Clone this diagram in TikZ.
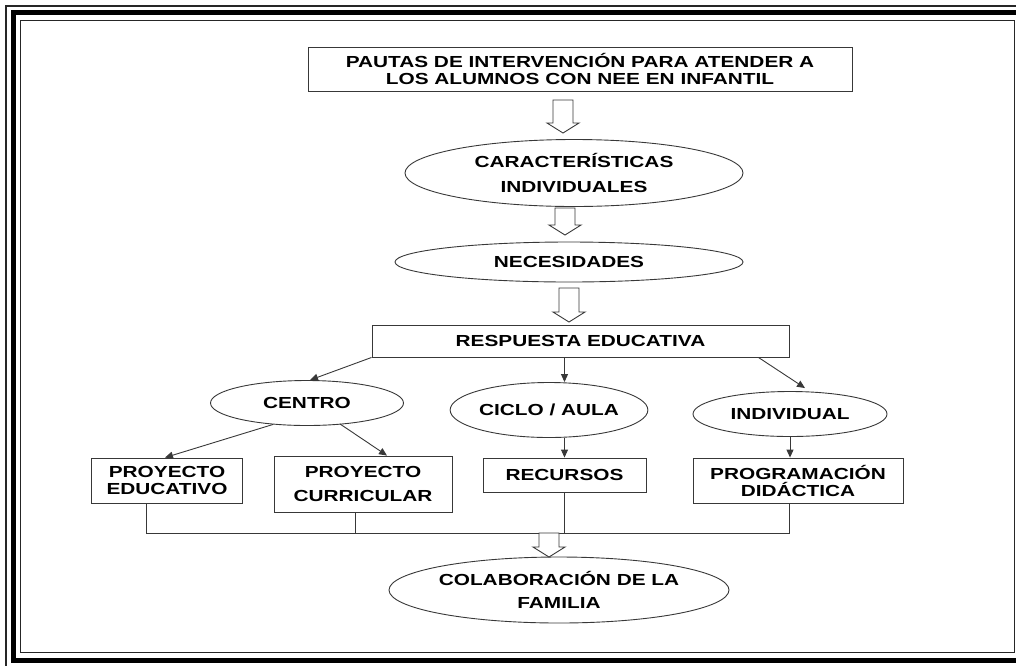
\documentclass[tikz,border=0pt]{standalone}
\usepackage{fontspec}
\setmainfont{Liberation Sans}[FakeStretch=1.3]
\usetikzlibrary{shapes.geometric,arrows.meta,calc}
\newcommand{\blockarrow}[2]{%
  \draw[hollow] let \p1=(#1), \p2=(#2) in
  (\x1-10pt,\y1) -- (\x1+10pt,\y1) -- (\x1+10pt,\y2+10pt) -- (\x1+16pt,\y2+10pt)
  -- (\x1,\y2) -- (\x1-16pt,\y2+10pt) -- (\x1-10pt,\y2+10pt) -- cycle;}
\begin{document}
\begin{tikzpicture}[x=1pt,y=-1pt,
  font=\fontsize{16}{17}\selectfont\bfseries,
  ln/.style={draw=black!78, line width=0.9pt},
  box/.style={ln, rectangle, inner sep=0pt, align=center},
  ell/.style={ln, ellipse, inner sep=0pt, align=center},
  arr/.style={ln, -{Triangle[length=8pt,width=7pt]}},
  hollow/.style={ln, fill=white, line join=miter},
  frame/.style={draw=black!85}]
\useasboundingbox (0,0) rectangle (1016,665);
\begin{scope}
  \clip (0,0) rectangle (1016,665);
  \draw[frame, line width=1.6pt] (6,6) rectangle (1040,700);
  \draw[frame, draw=black, line width=5pt] (13.5,12.5) rectangle (1030,660.5);
  \draw[frame, line width=1.6pt] (20.5,20.5) rectangle (1014.5,652.5);
\end{scope}

\node[box, minimum width=544pt, minimum height=44pt] (t) at (580,69)
  {PAUTAS DE INTERVENCIÓN PARA ATENDER A\\LOS ALUMNOS CON NEE EN INFANTIL};
\node[ell, minimum width=338pt, minimum height=67pt] (e1) at (574,173)
  {CARACTERÍSTICAS\\[8pt]INDIVIDUALES};
\node[ell, minimum width=348pt, minimum height=40pt] (e2) at (569,262) {NECESIDADES};
\node[box, minimum width=417pt, minimum height=32pt] (r) at (580.5,341) {RESPUESTA EDUCATIVA};
\node[ell, minimum width=193pt, minimum height=45pt] (c) at (307,403) {CENTRO};
\node[ell, minimum width=194pt, minimum height=55pt] (ca) at (549,410) {CICLO / AULA};
\node[ell, minimum width=194pt, minimum height=45pt] (in) at (790,414) {INDIVIDUAL};
\node[box, minimum width=151pt, minimum height=45pt] (pe) at (167,480.5) {PROYECTO\\EDUCATIVO};
\node[box, minimum width=178pt, minimum height=56pt] (pc) at (363,484) {PROYECTO\\[7pt]CURRICULAR};
\node[box, minimum width=163pt, minimum height=34pt] (rc) at (564.5,475) {RECURSOS};
\node[box, minimum width=210pt, minimum height=45pt] (pd) at (798,480.5) {PROGRAMACIÓN\\DIDÁCTICA};
\node[ell, minimum width=340pt, minimum height=66pt] (co) at (559,590)
  {COLABORACIÓN DE LA\\[6pt]FAMILIA};

% block arrows
\coordinate (h1a) at (563,100); \coordinate (h1b) at (563,133);
\coordinate (h2a) at (565,208); \coordinate (h2b) at (565,235);
\coordinate (h3a) at (569,288); \coordinate (h3b) at (569,322);
\coordinate (h4a) at (549,533); \coordinate (h4b) at (549,557);
\blockarrow{h1a}{h1b}
\blockarrow{h2a}{h2b}
\blockarrow{h3a}{h3b}

% arrows
\draw[arr] (r.south west) -- ($(c.north)+(3,0)$);
\draw[arr] (r.south -| rc.north) -- (ca.north -| rc.north);
\draw[arr] ($(r.south east)+(-31,0)$) -- ($(in.north)+(15,-3)$);
\draw[arr] ($(c.south)+(-34,-1.5)$) -- ($(pe.north)+(-2,0)$);
\draw[arr] ($(c.south)+(33,-2)$) -- ($(pc.north)+(24,0)$);
\draw[arr] (ca.south -| rc.north) -- (rc.north);
\draw[arr] (in.south) -- (in.south |- pd.north);

% bus
\coordinate (peB) at ($(pe.south)+(-21,0)$);
\coordinate (pcB) at ($(pc.south)+(-8,0)$);
\coordinate (pdB) at ($(pd.south)+(-9,0)$);
\coordinate (busL) at (146,533);
\coordinate (busR) at (789,533);
\draw[ln] (peB) -- (busL) -- (busR) -- (pdB);
\draw[ln] (pcB) -- (pcB |- busL);
\draw[ln] (rc.south) -- (rc.south |- busL);
\blockarrow{h4a}{h4b}
\end{tikzpicture}
\end{document}
